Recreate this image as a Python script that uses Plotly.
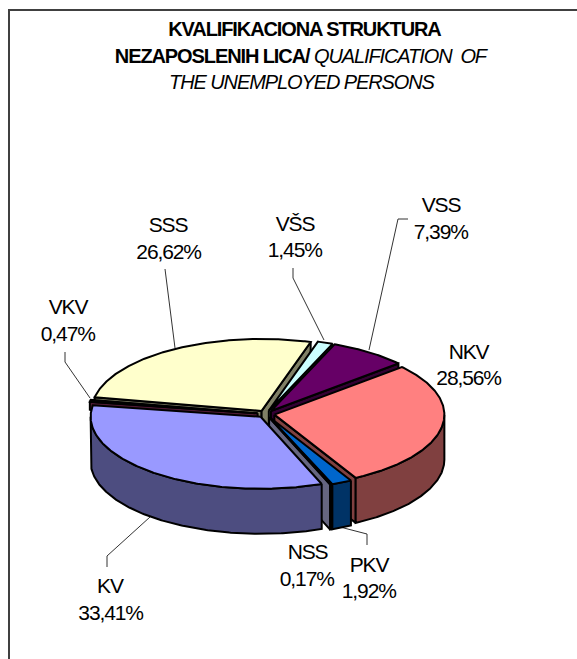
import numpy as np
import plotly.graph_objects as go

# ---- data (clockwise from the first slice) ----
categories = ["NKV", "PKV", "NSS", "KV", "VKV", "SSS", "VŠS", "VSS"]
shares = [28.56, 1.92, 0.17, 33.41, 0.47, 26.62, 1.45, 7.39]
share_labels = ["28,56%", "1,92%", "0,17%", "33,41%", "0,47%", "26,62%", "1,45%", "7,39%"]
top_colors = ["#FF8080", "#0066CC", "#CCCCFF", "#9999FF", "#993366", "#FFFFCC", "#CCFFFF", "#660066"]
side_colors = ["#804040", "#003366", "#666680", "#4D4D80", "#4D1A33", "#808066", "#668080", "#330033"]
draw_order = ["SSS", "VŠS", "VSS", "NKV", "PKV", "NSS", "VKV", "KV"]
title_lines = ["<b>KVALIFIKACIONA STRUKTURA</b>",
               "<b>NEZAPOSLENIH LICA/</b> <i>QUALIFICATION  OF</i>",
               "<i>THE UNEMPLOYED PERSONS</i>"]

# ---- pie projection settings (pixels) ----
CX, CY, RX, RY, DEPTH, EXPLODE, START = 266, 414, 170, 72, 45, 0.05, 48.6
W, H = 577, 659


def project(deg, radius=1.0):
    a = np.radians(deg)
    return radius * RX * np.sin(a), -radius * RY * np.cos(a)


def poly(fig, xs, ys, color, name):
    fig.add_trace(go.Scatter(x=list(xs), y=list(ys), mode="lines", fill="toself",
                             fillcolor=color, line=dict(color="black", width=2),
                             hoverinfo="skip", showlegend=False, name=name))


fig = go.Figure()
total = sum(shares)
angles = {}
cum = START
for cat, v in zip(categories, shares):
    angles[cat] = (cum, cum + v / total * 360)
    cum = angles[cat][1]

for cat in draw_order:
    i = categories.index(cat)
    a0, a1 = angles[cat]
    ox, oy = project((a0 + a1) / 2, EXPLODE)
    x0, y0 = CX + ox, CY + oy
    arc = np.linspace(a0, a1, max(int(a1 - a0) * 2, 4))
    ax, ay = project(arc)
    # radial walls: only those that face the viewer
    for edge, normal in ((a0, a0 - 90), (a1, a1 + 90)):
        if np.cos(np.radians(normal)) >= 0:
            continue
        ex, ey = project(edge)
        rim_depth = 8 if 270 <= edge % 360 else DEPTH
        poly(fig, [x0, x0 + ex, x0 + ex, x0, x0],
             [y0, y0 + ey, y0 + ey + rim_depth, y0 + DEPTH, y0],
             side_colors[i], cat + " wall")
    # outer wall: only the front half of the rim shows
    for lo, hi in ((90, 270), (450, 630)):
        s, e = max(a0, lo), min(a1, hi)
        if e > s:
            t = np.linspace(s, e, max(int(e - s) * 2, 4))
            wx, wy = project(t)
            poly(fig, np.r_[x0 + wx, (x0 + wx)[::-1], x0 + wx[0]],
                 np.r_[y0 + wy, (y0 + wy + DEPTH)[::-1], y0 + wy[0]],
                 side_colors[i], cat + " rim")
    # top face
    poly(fig, np.r_[x0, x0 + ax, x0], np.r_[y0, y0 + ay, y0], top_colors[i], cat)

# ---- labels ----
label_pos = {"NKV": (468, 351, 377), "PKV": (369, 564, 590), "NSS": (307, 551, 578),
             "KV": (110, 585, 612), "VKV": (68, 306, 333), "SSS": (168, 224, 251),
             "VŠS": (295, 223, 249), "VSS": (441, 204, 231)}
ann = []
for cat, txt in zip(categories, share_labels):
    x, y1, y2 = label_pos[cat]
    for t, y in ((cat, y1), (txt, y2)):
        ann.append(dict(x=x, y=y, text=t, showarrow=False, xref="x", yref="y",
                        font=dict(family="Liberation Sans, Arial", size=21, color="black")))
for t, x, y in zip(title_lines, (304, 301, 302), (29, 56, 82)):
    ann.append(dict(x=x, y=y, text=t, showarrow=False, xref="x", yref="y",
                    font=dict(family="Liberation Sans, Arial", size=20, color="black")))

# ---- leader lines and the open frame ----
leaders = ["M65,352 L65,362 L90,398", "M165,269 L175,348", "M293,268 L293,278 L324,340",
           "M408,219 L398,219 L369,350", "M107,567 L107,556 L150,517", "M367,545 L367,534 L340,527"]
shapes = [dict(type="path", path=p, xref="x", yref="y", layer="below",
               line=dict(color="#333333", width=1)) for p in leaders]
shapes.append(dict(type="path", path=f"M9,{H} L9,10 L{W},10", xref="x", yref="y", layer="below",
                   line=dict(color="#404040", width=2)))

fig.update_layout(width=W, height=H, margin=dict(l=0, r=0, t=0, b=0), autosize=False,
                  paper_bgcolor="white", plot_bgcolor="white", showlegend=False,
                  annotations=ann, shapes=shapes,
                  xaxis=dict(range=[0, W], visible=False, fixedrange=True),
                  yaxis=dict(range=[H, 0], visible=False, fixedrange=True))

css = ("var s=document.createElement('style');"
       "s.textContent='.annotation text{letter-spacing:-1.1px}"
       "html,body{margin:0;padding:0}';"
       "document.head.appendChild(s);")
fig.write_html("out.html", post_script=css, config=dict(displayModeBar=False))
